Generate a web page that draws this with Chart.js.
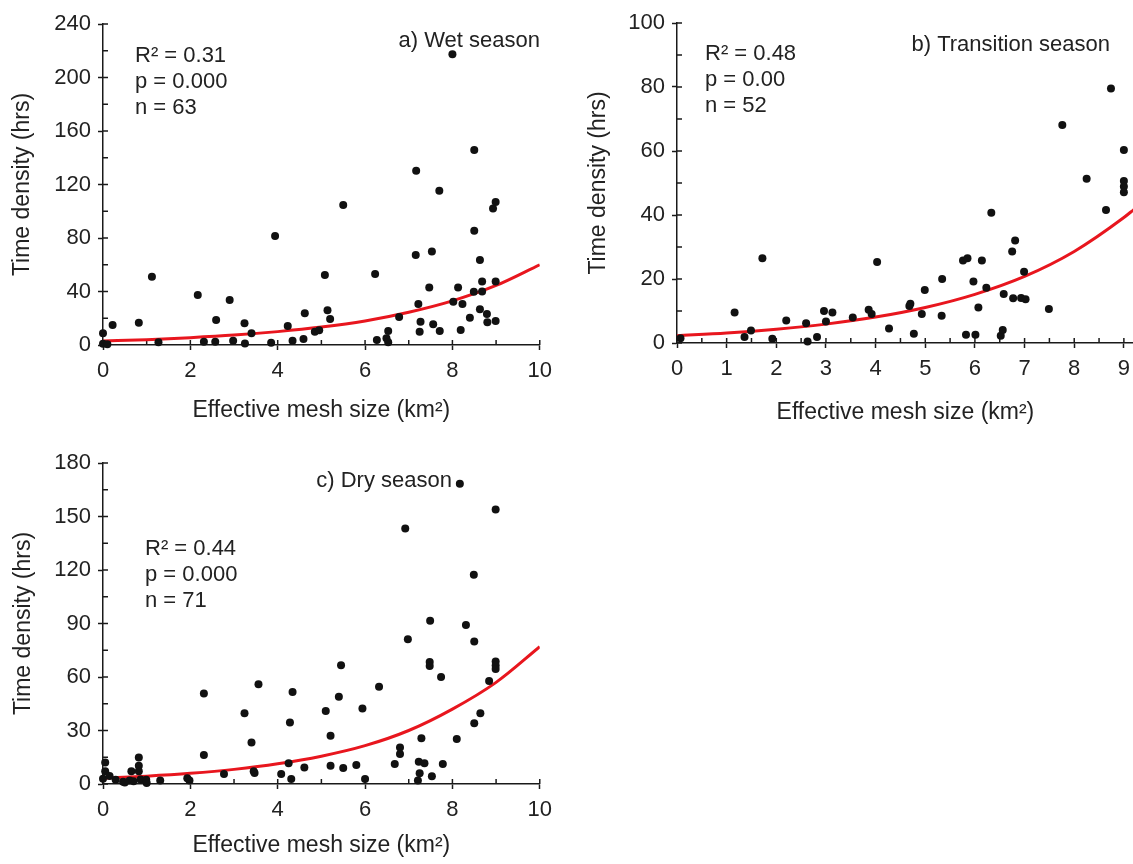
<!DOCTYPE html>
<html>
<head>
<meta charset="utf-8">
<script src="https://cdn.jsdelivr.net/npm/chart.js@4.4.1/dist/chart.umd.min.js"></script>
<style>
    body { margin: 0; background: #fff; overflow: hidden; }
    .panel { position: absolute; overflow: hidden; }
</style>
</head>
<body>
<div class="panel" style="left:0;top:0;width:560px;height:430px"><canvas id="wetChart" width="560" height="430"></canvas></div>
<div class="panel" style="left:573px;top:0;width:560px;height:430px"><canvas id="transChart" width="565" height="430"></canvas></div>
<div class="panel" style="left:0;top:440px;width:560px;height:424px"><canvas id="dryChart" width="560" height="424"></canvas></div>
<script>
// a) Wet season
const wetX = [0, 0, 0.22, 0.82, 1.12, 1.27, 2.17, 2.31, 2.57, 2.59, 2.9, 2.98, 3.24, 3.25, 3.4, 3.85, 3.94,
    4.23, 4.34, 4.59, 4.62, 4.85, 4.95, 5.08, 5.14, 5.2, 5.5, 6.23, 6.27, 6.49, 6.53, 6.53, 6.78,
    7.16, 7.17, 7.22, 7.25, 7.27, 7.47, 7.53, 7.56, 7.7, 7.71, 8.0, 8.02, 8.13, 8.19, 8.23,
    8.4, 8.49, 8.5, 8.5, 8.63, 8.63, 8.68, 8.68, 8.79, 8.8, 8.93, 8.99, 8.99, 8.99, 0.1];
const wetY = [8.7, 1, 15, 16.7, 51, 2, 37.4, 2.5, 2.5, 18.7, 33.6, 3.2, 16.2, 1.2, 8.7, 1.7, 81.5,
    14.2, 3.2, 4.5, 23.7, 10, 11, 52.3, 26, 19.4, 104.7, 53, 3.7, 5, 10.5, 2, 21,
    67.3, 130.3, 30.6, 10, 17.4, 43, 70, 15.5, 115.4, 10.5, 217.3, 32.4, 42.9, 11.2, 30.7,
    20.4, 39.9, 145.8, 85.5, 63.6, 26.7, 47.4, 40, 23.2, 17, 102, 107, 47.4, 18, 0.5];
const wetFitX = [0, 1, 2, 3, 4, 5, 6, 7, 8, 9, 10];
const wetFitY = [3, 4.0, 5.5, 7.4, 10, 13.4, 18, 24.5, 33, 44.5, 60];

// b) Transition season
const transX = [0.07, 1.16, 1.36, 1.49, 1.72, 1.92, 2.2, 2.6, 2.63, 2.82, 2.96, 3.0, 3.13, 3.54, 3.86,
    3.92, 4.03, 4.27, 4.68, 4.7, 4.77, 4.93, 4.99, 5.33, 5.34, 5.76, 5.85, 5.82, 5.97, 6.01,
    6.07, 6.14, 6.23, 6.33, 6.58, 6.52, 6.56, 6.75, 6.81, 6.77, 6.93, 7.02, 6.99, 7.49, 7.76,
    8.25, 8.64, 8.74, 9.0, 9.0, 9.0, 9.0];
const transY = [1.5, 9.5, 1.9, 3.9, 26.5, 1.3, 7, 6.2, 0.5, 1.9, 10, 6.7, 9.5, 8, 10.4,
    9.1, 25.3, 4.5, 11.6, 12.3, 2.9, 9.1, 16.6, 8.5, 20, 25.8, 26.5, 2.6, 19.2, 2.6,
    11.1, 25.8, 17.3, 40.7, 15.3, 2.3, 4.1, 28.6, 32, 14, 14.1, 13.7, 22.3, 10.6, 68.1,
    51.3, 41.6, 79.5, 60.3, 50.6, 48.9, 47.1];
const transFitX = [0, 1, 2, 3, 4, 5, 6, 7, 8, 9, 9.2];
const transFitY = [2.3, 3.1, 4.3, 5.9, 8.1, 11.1, 15.2, 20.8, 28.6, 39.2, 41.7];
// axis runs a little past 9 (cut at the right edge), ticks stop at 9
const transTicksX = [0, 0.5, 1, 1.5, 2, 2.5, 3, 3.5, 4, 4.5, 5, 5.5, 6, 6.5, 7, 7.5, 8, 8.5, 9];

// c) Dry season
const dryX = [0, 0.05, 0.05, 0.29, 0.46, 0.61, 0.65, 0.82, 0.82, 0.82, 0.86, 0.99, 1.31, 1.93, 1.98,
    2.31, 2.31, 2.77, 3.24, 3.4, 3.45, 3.47, 3.56, 4.08, 4.25, 4.28, 4.34, 4.31, 4.61, 5.1,
    5.21, 5.21, 5.4, 5.45, 5.5, 5.8, 5.94, 6.0, 6.32, 6.68, 6.8, 6.8, 6.92, 6.98, 7.23,
    7.21, 7.25, 7.29, 7.36, 7.49, 7.48, 7.48, 7.53, 7.74, 7.78, 8.1, 8.17, 8.31, 8.49, 8.5,
    8.5, 8.64, 8.84, 8.99, 8.99, 8.99, 8.99, 0.5, 0.7, 0.15, 1.0];
const dryY = [3, 12.1, 7.1, 2.4, 1.3, 1.9, 7.1, 14.9, 10.3, 7.1, 2.5, 2.4, 1.9, 3.2, 1.9,
    50.8, 16.2, 5.6, 39.7, 23.3, 7.1, 6.2, 56, 5.6, 11.6, 34.5, 51.6, 2.8, 9.3, 41,
    27, 10.3, 48.9, 66.6, 9, 10.6, 42.4, 2.8, 54.5, 11.2, 20.5, 16.8, 143.3, 81.1, 12.5,
    1.9, 6, 25.6, 11.7, 91.6, 68.4, 66.2, 4.3, 60, 11.2, 25.2, 168.4, 89.2, 117.3, 79.9,
    34, 39.7, 57.8, 153.9, 68.7, 66.4, 64.5, 0.8, 1.5, 4.5, 0.6];
const dryFitX = [0, 1, 2, 3, 4, 5, 6, 7, 8, 9, 10];
const dryFitY = [3.2, 4.4, 6.0, 8.2, 11.3, 15.6, 21.5, 30, 42, 57, 77];

const FONT = "'Liberation Sans', Arial, sans-serif";
const INK = '#1a1a1a';
const RED = '#e8161e';

const toPoints = (xs, ys) => xs.map((x, i) => ({ x: x, y: ys[i] }));
const isMult = (v, step) => Math.abs(v / step - Math.round(v / step)) < 1e-6;

// short tick marks pointing into the plot (every tick, major and minor)
const innerTicks = {
    id: 'innerTicks',
    beforeDatasetsDraw(chart) {
        const { ctx, chartArea } = chart;
        const xs = chart.scales.x, ys = chart.scales.y;
        ctx.save();
        ctx.strokeStyle = INK;
        ctx.lineWidth = 1.5;
        xs.ticks.forEach(t => {
            const px = xs.getPixelForValue(t.value);
            ctx.beginPath();
            ctx.moveTo(px, chartArea.bottom);
            ctx.lineTo(px, chartArea.bottom - 5);
            ctx.stroke();
        });
        ys.ticks.forEach(t => {
            const py = ys.getPixelForValue(t.value);
            ctx.beginPath();
            ctx.moveTo(chartArea.left, py);
            ctx.lineTo(chartArea.left + 5, py);
            ctx.stroke();
        });
        ctx.restore();
    }
};

// stats block and panel title inside the plot
const panelText = {
    id: 'panelText',
    afterDraw(chart, args, opts) {
        const { ctx, chartArea } = chart;
        ctx.save();
        ctx.fillStyle = '#222';
        ctx.font = '22px ' + FONT;
        ctx.textBaseline = 'middle';
        ctx.textAlign = 'left';
        opts.stats.forEach((line, i) => {
            ctx.fillText(line, chartArea.left + opts.statsX, chartArea.top + opts.statsY + i * 26);
        });
        ctx.textAlign = 'right';
        ctx.fillText(opts.title, chartArea.left + opts.titleX, chartArea.top + opts.titleY);
        ctx.restore();
    }
};

function makeChart(id, p) {
    const ctx = document.getElementById(id).getContext('2d');
    return new Chart(ctx, {
        type: 'scatter',
        data: {
            datasets: [{
                data: toPoints(p.xs, p.ys),
                backgroundColor: '#111',
                borderWidth: 0,
                pointRadius: 4,
                clip: false,
                order: 0
            }, {
                type: 'line',
                data: toPoints(p.fitX, p.fitY),
                borderColor: RED,
                borderWidth: 3,
                pointRadius: 0,
                fill: false,
                cubicInterpolationMode: 'monotone',
                order: 1
            }]
        },
        options: {
            responsive: false,
            animation: false,
            layout: { autoPadding: false, padding: { top: p.padTop, right: p.padRight, left: 0, bottom: 0 } },
            plugins: {
                legend: { display: false },
                tooltip: { enabled: false },
                panelText: p.text
            },
            scales: {
                x: {
                    type: 'linear',
                    min: 0,
                    max: p.xMax,
                    afterFit: s => { s.height = p.xHeight; },
                    afterBuildTicks: s => {
                        if (p.xTicks) {
                            s.ticks = p.xTicks.map(v => ({ value: v }));
                        }
                    },
                    border: { display: true, color: INK, width: 1.5 },
                    grid: {
                        drawOnChartArea: false,
                        tickLength: 5,
                        tickWidth: 1.5,
                        tickColor: c => (c.tick && isMult(c.tick.value, p.xMajor)) ? INK : 'rgba(0,0,0,0)'
                    },
                    ticks: {
                        stepSize: p.xStep,
                        autoSkip: false,
                        maxRotation: 0,
                        padding: 8,
                        color: '#222',
                        font: { family: FONT, size: 22 },
                        callback: v => (isMult(v, p.xMajor) ? v : '')
                    },
                    title: {
                        display: true,
                        text: 'Effective mesh size (km²)',
                        color: '#222',
                        font: { family: FONT, size: 23 },
                        padding: { top: 4, bottom: p.xTitlePad }
                    }
                },
                y: {
                    type: 'linear',
                    min: 0,
                    max: p.yMax,
                    afterFit: s => { s.width = p.yWidth; },
                    border: { display: true, color: INK, width: 1.5 },
                    grid: {
                        drawOnChartArea: false,
                        tickLength: 5,
                        tickWidth: 1.5,
                        tickColor: c => (c.tick && isMult(c.tick.value, p.yMajor)) ? INK : 'rgba(0,0,0,0)'
                    },
                    ticks: {
                        stepSize: p.yStep,
                        autoSkip: false,
                        padding: 7,
                        color: '#222',
                        font: { family: FONT, size: 22 },
                        callback: v => (isMult(v, p.yMajor) ? v : '')
                    },
                    title: {
                        display: true,
                        text: 'Time density (hrs)',
                        color: '#222',
                        font: { family: FONT, size: 23 },
                        padding: { top: p.yTitlePad, bottom: 4 }
                    }
                }
            }
        },
        plugins: [innerTicks, panelText]
    });
}

document.addEventListener('DOMContentLoaded', () => {
    makeChart('wetChart', {
        xs: wetX, ys: wetY, fitX: wetFitX, fitY: wetFitY,
        xMax: 10, xStep: 1, xMajor: 2, yMax: 240, yStep: 20, yMajor: 40,
        padTop: 24, padRight: 15, xHeight: 85, yWidth: 103, xTitlePad: 6, yTitlePad: 9,
        text: { stats: ['R² = 0.31', 'p = 0.000', 'n = 63'], statsX: 32, statsY: 32,
                title: 'a) Wet season', titleX: 437, titleY: 17 }
    });
    makeChart('transChart', {
        xs: transX, ys: transY, fitX: transFitX, fitY: transFitY, xTicks: transTicksX,
        xMax: 9.2, xStep: 0.5, xMajor: 1, yMax: 100, yStep: 10, yMajor: 20,
        padTop: 23, padRight: 0, xHeight: 87, yWidth: 104, xTitlePad: 4, yTitlePad: 12,
        text: { stats: ['R² = 0.48', 'p = 0.00', 'n = 52'], statsX: 28, statsY: 31,
                title: 'b) Transition season', titleX: 433, titleY: 22 }
    });
    makeChart('dryChart', {
        xs: dryX, ys: dryY, fitX: dryFitX, fitY: dryFitY,
        xMax: 10, xStep: 1, xMajor: 2, yMax: 180, yStep: 15, yMajor: 30,
        padTop: 23, padRight: 15, xHeight: 80, yWidth: 103, xTitlePad: 5, yTitlePad: 10,
        text: { stats: ['R² = 0.44', 'p = 0.000', 'n = 71'], statsX: 42, statsY: 86,
                title: 'c) Dry season', titleX: 349, titleY: 18 }
    });
});
</script>
</body>
</html>
